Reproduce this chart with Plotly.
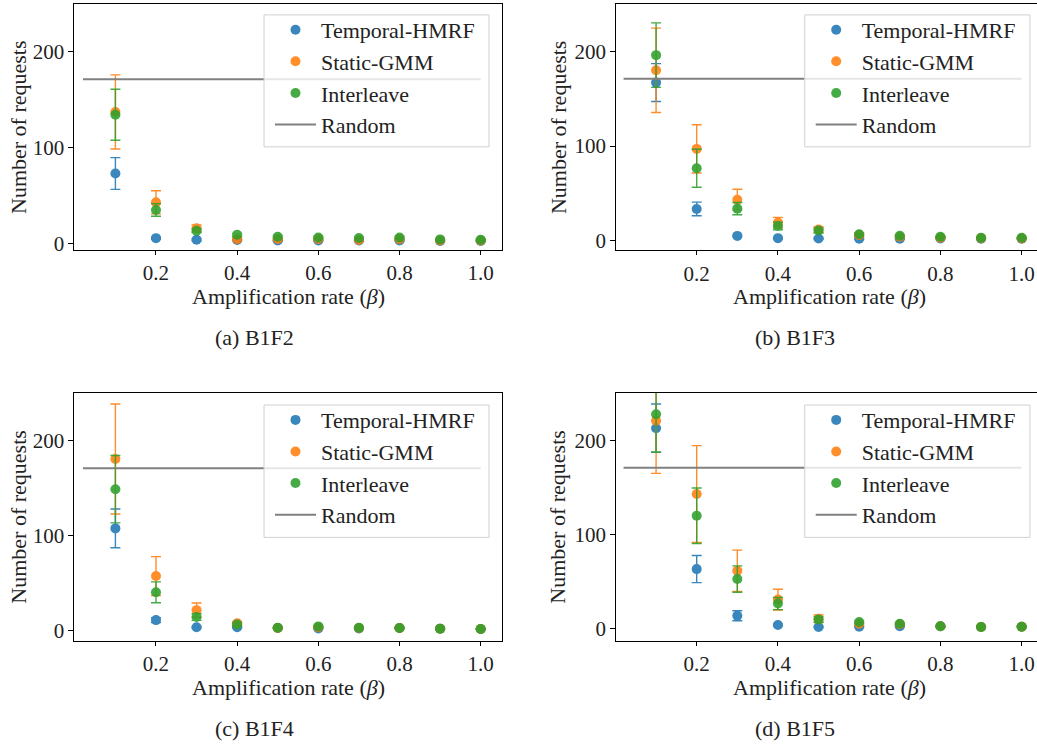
import plotly.graph_objects as go

beta = [0.1, 0.2, 0.3, 0.4, 0.5, 0.6, 0.7, 0.8, 0.9, 1.0]
random_x = [0.02, 1.0]
random_level = 171

panel_names = ["(a) B1F2", "(b) B1F3", "(c) B1F4", "(d) B1F5"]
series_names = ["Temporal-HMRF", "Static-GMM", "Interleave"]

# B1F2
b1f2_temporal = [73, 5.8, 4.1, 4.0, 3.4, 3.4, 3.4, 3.4, 2.8, 2.8]
b1f2_temporal_err = [16.5, 1.2, 1.0, 0.8, 0.8, 0.6, 0.6, 0.6, 0.5, 0.5]
b1f2_static = [137, 43, 16, 4.8, 5.0, 5.0, 4.0, 4.8, 3.4, 3.4]
b1f2_static_err = [38.5, 12, 3.5, 1.2, 1.0, 1.0, 0.8, 0.8, 0.6, 0.6]
b1f2_interleave = [134, 35, 13.5, 9.3, 7.2, 6.5, 5.9, 6.5, 4.5, 4.1]
b1f2_interleave_err = [26.5, 6.5, 2.0, 1.5, 1.2, 1.0, 1.0, 1.0, 0.8, 0.8]

# B1F3
b1f3_temporal = [167, 33.6, 5.2, 2.8, 2.4, 2.1, 2.1, 2.5, 2.1, 2.1]
b1f3_temporal_err = [20, 7.2, 1.0, 0.8, 0.8, 0.6, 0.5, 0.5, 0.4, 0.4]
b1f3_static = [180, 97, 43.4, 19.2, 11.9, 6.0, 4.2, 3.2, 2.8, 2.5]
b1f3_static_err = [44.5, 25.5, 11, 5.5, 3.0, 1.5, 1.0, 0.8, 0.6, 0.5]
b1f3_interleave = [196, 76.6, 34, 15.7, 10.8, 7.0, 5.3, 4.2, 3.2, 3.2]
b1f3_interleave_err = [34, 20, 6.5, 4.0, 2.5, 1.5, 1.0, 0.8, 0.6, 0.6]

# B1F4
b1f4_temporal = [107.7, 11.1, 3.5, 3.5, 2.8, 2.4, 2.4, 2.8, 2.1, 1.7]
b1f4_temporal_err = [20.4, 2.5, 1.0, 0.8, 0.6, 0.5, 0.5, 0.5, 0.4, 0.4]
b1f4_static = [180.8, 57.5, 21.6, 7.7, 2.8, 3.5, 2.8, 2.8, 2.1, 1.7]
b1f4_static_err = [58, 20.5, 7.5, 2.0, 0.6, 0.8, 0.5, 0.5, 0.4, 0.4]
b1f4_interleave = [149, 40.4, 14.3, 6.6, 3.1, 4.5, 3.1, 2.8, 2.1, 1.7]
b1f4_interleave_err = [35.5, 11, 3.5, 1.5, 0.6, 0.8, 0.6, 0.5, 0.4, 0.4]

# B1F5
b1f5_temporal = [213, 63.3, 13.7, 3.9, 1.8, 2.1, 2.5, 2.5, 1.8, 2.1]
b1f5_temporal_err = [25.7, 14.4, 5.3, 1.0, 0.5, 0.5, 0.5, 0.4, 0.4, 0.4]
b1f5_static = [221, 143, 61.5, 30.9, 10.5, 5.3, 4.6, 2.5, 1.8, 2.1]
b1f5_static_err = [56, 51.5, 22, 11, 4.0, 1.5, 1.0, 0.5, 0.4, 0.4]
b1f5_interleave = [227.8, 120, 52.7, 26.7, 9.8, 7.0, 5.3, 2.5, 1.8, 2.1]
b1f5_interleave_err = [40, 29.5, 14, 6.5, 3.0, 1.5, 1.0, 0.5, 0.4, 0.4]

x_ticks = [0.2, 0.4, 0.6, 0.8, 1.0]
x_tick_labels = ["0.2", "0.4", "0.6", "0.8", "1.0"]
y_ticks = [0, 100, 200]
y_tick_labels = ["0", "100", "200"]

panels = [
    [(b1f2_temporal, b1f2_temporal_err), (b1f2_static, b1f2_static_err), (b1f2_interleave, b1f2_interleave_err)],
    [(b1f3_temporal, b1f3_temporal_err), (b1f3_static, b1f3_static_err), (b1f3_interleave, b1f3_interleave_err)],
    [(b1f4_temporal, b1f4_temporal_err), (b1f4_static, b1f4_static_err), (b1f4_interleave, b1f4_interleave_err)],
    [(b1f5_temporal, b1f5_temporal_err), (b1f5_static, b1f5_static_err), (b1f5_interleave, b1f5_interleave_err)],
]

colors = ["#1f77b4", "#ff7f0e", "#2ca02c"]
W, H = 1037, 749
FONT = "'Liberation Serif', 'DejaVu Serif', serif"
FS = 22
TXT = "#222222"

# pixel geometry of each panel: left, right, top, bottom
geo = [
    (74, 501.7, 4, 252),
    (615.7, 1037, 4, 252.3),
    (74, 501.7, 396, 645.7),
    (615.7, 1037, 396, 645.7),
]
x_ranges = [[-0.002, 1.0517], [0.0006, 1.0377], [-0.002, 1.0517], [0.0006, 1.0377]]
y_ranges = [[-6.5, 249.2], [-10, 250], [-10.4, 250.5], [-12.6, 250.6]]
subtitle_pos = [(254, 340), (795, 340), (254, 734), (795, 734)]
# legend frame boxes: left, top, right, bottom (pixels)
legend_box = [(264, 15, 489, 148), (804.7, 15, 1030, 148),
              (264, 408.3, 489, 541.7), (804.7, 408.3, 1030, 541.7)]
ylabel_x = [19, 558, 19, 558]
xlabel_x = [288, 829, 288, 829]

fig = go.Figure()
layout = dict(
    width=W, height=H, margin=dict(l=0, r=0, t=0, b=0),
    plot_bgcolor="white", paper_bgcolor="white",
    font=dict(family=FONT, size=FS, color=TXT),
    showlegend=True,
)
annotations = []
shapes = []

for i, panel in enumerate(panels):
    k = "" if i == 0 else str(i + 1)
    xa, ya = "x" + k, "y" + k
    leg = "legend" + k
    for j, (vals, errs) in enumerate(panel):
        fig.add_trace(go.Scatter(
            x=beta, y=vals, mode="markers", name=series_names[j],
            xaxis=xa, yaxis=ya, legend=leg, opacity=0.88,
            marker=dict(color=colors[j], size=10),
            error_y=dict(type="data", array=errs, visible=True, color=colors[j],
                         thickness=1.4, width=5),
        ))
    fig.add_trace(go.Scatter(
        x=random_x, y=[random_level, random_level], mode="lines", name="Random",
        xaxis=xa, yaxis=ya, legend=leg,
        line=dict(color="#808080", width=2),
    ))
    l, r, t, b = geo[i]
    layout["xaxis" + k] = dict(
        domain=[l / W, r / W], range=x_ranges[i], anchor=ya,
        tickvals=x_ticks, ticktext=x_tick_labels, ticks="outside", ticklen=4,
        tickwidth=1, tickcolor="black", showgrid=False, zeroline=False,
        showline=True, linecolor="black", linewidth=1.2, mirror=True,
        tickfont=dict(family=FONT, size=21, color=TXT),
    )
    layout["yaxis" + k] = dict(
        domain=[1 - b / H, 1 - t / H], range=y_ranges[i], anchor=xa,
        tickvals=y_ticks, ticktext=y_tick_labels, ticks="outside", ticklen=4.5,
        tickwidth=1, tickcolor="black", showgrid=False, zeroline=False,
        showline=True, linecolor="black", linewidth=1.2,
        mirror=(i % 2 == 0),
        tickfont=dict(family=FONT, size=21, color=TXT),
    )
    bl, bt, br, bb = legend_box[i]
    shapes.append(dict(
        type="rect", xref="paper", yref="paper", layer="above",
        x0=bl / W, x1=br / W, y0=1 - bb / H, y1=1 - bt / H,
        fillcolor="rgba(255,255,255,0.8)", line=dict(color="#d0d0d0", width=1),
    ))
    layout[leg] = dict(
        x=(bl + 6) / W, y=1 - (bt - 6) / H, xanchor="left", yanchor="top",
        bgcolor="rgba(0,0,0,0)", borderwidth=0,
        font=dict(family=FONT, size=22, color=TXT),
        tracegroupgap=4, itemwidth=41,
    )
    annotations.append(dict(
        text="Amplification rate (<i>β</i>)", xref="paper", yref="paper",
        x=xlabel_x[i] / W, y=1 - (b + 47) / H, showarrow=False,
        xanchor="center", yanchor="middle",
        font=dict(family=FONT, size=FS, color=TXT),
    ))
    annotations.append(dict(
        text="Number of requests", xref="paper", yref="paper",
        x=ylabel_x[i] / W, y=1 - ((t + b) / 2) / H, textangle=-90,
        showarrow=False, xanchor="center", yanchor="middle",
        font=dict(family=FONT, size=FS, color=TXT),
    ))
    sx, sy = subtitle_pos[i]
    annotations.append(dict(
        text=panel_names[i], xref="paper", yref="paper",
        x=sx / W, y=1 - sy / H, showarrow=False, xanchor="center", yanchor="middle",
        font=dict(family=FONT, size=FS, color=TXT),
    ))

layout["annotations"] = annotations
layout["shapes"] = shapes
fig.update_layout(**layout)
fig.write_html("out.html")
